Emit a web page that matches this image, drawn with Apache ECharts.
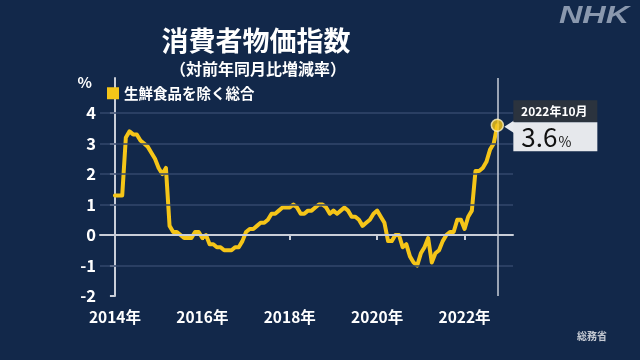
<!DOCTYPE html>
<html><head><meta charset="utf-8">
<script src="https://cdn.jsdelivr.net/npm/echarts@6/dist/echarts.min.js"></script>
<style>html,body{margin:0;padding:0;background:#12284a;}#c{width:640px;height:360px;}</style>
</head><body><div id="c"></div>
<script>
// 消費者物価指数（生鮮食品を除く総合）対前年同月比 %, monthly from 2014年1月
const startYear = 2014;
const v2014 = [1.3, 1.3, 1.3, 3.2, 3.4, 3.3, 3.3, 3.1, 3.0, 2.9, 2.7, 2.5];
const v2015 = [2.2, 2.0, 2.2, 0.3, 0.1, 0.1, 0.0, -0.1, -0.1, -0.1, 0.1, 0.1];
const v2016 = [-0.1, 0.0, -0.3, -0.3, -0.4, -0.4, -0.5, -0.5, -0.5, -0.4, -0.4, -0.2];
const v2017 = [0.1, 0.2, 0.2, 0.3, 0.4, 0.4, 0.5, 0.7, 0.7, 0.8, 0.9, 0.9];
const v2018 = [0.9, 1.0, 0.9, 0.7, 0.7, 0.8, 0.8, 0.9, 1.0, 1.0, 0.9, 0.7];
const v2019 = [0.8, 0.7, 0.8, 0.9, 0.8, 0.6, 0.6, 0.5, 0.3, 0.4, 0.5, 0.7];
const v2020 = [0.8, 0.6, 0.4, -0.2, -0.2, 0.0, 0.0, -0.4, -0.3, -0.7, -0.9, -1.0];
const v2021 = [-0.6, -0.4, -0.1, -0.9, -0.6, -0.5, -0.2, 0.0, 0.1, 0.1, 0.5, 0.5];
const v2022 = [0.2, 0.6, 0.8, 2.1, 2.1, 2.2, 2.4, 2.8, 3.0, 3.6];

const yTicks = [-2, -1, 0, 1, 2, 3, 4];
const xTickYears = [2014, 2016, 2018, 2020, 2022];
const seriesName = '生鮮食品を除く総合';
const latestLabel = '2022年10月';

const cpi = [].concat(v2014, v2015, v2016, v2017, v2018, v2019, v2020, v2021, v2022);
const seriesData = cpi.map((v, i) => [i, v]);
const lastIdx = cpi.length - 1;
const lastVal = cpi[lastIdx];
const xTickVals = xTickYears.map(y => (y - startYear) * 12);

const FONT = '"Noto Sans CJK JP", "Noto Sans", sans-serif';
const AX = '#c9ced8';
const GRIDC = '#33476c';

const chart = echarts.init(document.getElementById('c'), null, {renderer: 'canvas'});
chart.setOption({
  backgroundColor: '#12284a',
  animation: false,
  textStyle: {fontFamily: FONT},
  grid: {left: 100, right: 127, top: 78, bottom: 64},
  legend: {
    data: [seriesName], left: 107, top: 86, padding: 0,
    icon: 'rect', itemWidth: 12, itemHeight: 12,
    textStyle: {color: '#ffffff', fontSize: 14.5, fontWeight: 'bold', fontFamily: FONT}
  },
  xAxis: {
    type: 'value', min: -4.1, max: 109.3,
    axisLine: {show: true, lineStyle: {color: AX, width: 2}},
    axisTick: {show: true, customValues: xTickVals, length: 5, lineStyle: {color: AX, width: 2}},
    axisLabel: {customValues: xTickVals, color: '#ffffff', fontSize: 15.5, fontWeight: 'bold', margin: 13,
      formatter: v => (startYear + v / 12) + '年'},
    splitLine: {show: false}
  },
  yAxis: {
    type: 'value', min: -2, max: 5.15,
    axisLine: {show: true, lineStyle: {color: AX, width: 2}},
    axisTick: {show: true, customValues: yTicks, length: 5, lineStyle: {color: AX, width: 2}},
    axisLabel: {customValues: yTicks.concat([5]), color: '#ffffff', fontSize: 16.5, fontWeight: 'bold', margin: 4,
      formatter: v => v === 5 ? '{p|%}' : String(v),
      rich: {p: {fontSize: 15, fontWeight: 'bold', color: '#ffffff', fontFamily: FONT, padding: [0, 4, 0, 0]}}},
    splitLine: {show: false}
  },
  series: [
    {
      type: 'line', name: 'grid', data: seriesData, silent: true, z: 1,
      lineStyle: {opacity: 0}, showSymbol: false, legendHoverLink: false,
      markLine: {
        silent: true, symbol: 'none', label: {show: false}, animation: false,
        data: yTicks.filter(v => v !== yTicks[0]).map(v => ({
          yAxis: v, lineStyle: {type: 'solid', color: v === 0 ? AX : GRIDC, width: v === 0 ? 2 : 1.5}
        })).concat([{xAxis: lastIdx, lineStyle: {type: 'solid', color: AX, width: 1.5}}])
      }
    },
    {
      type: 'line', name: seriesName, data: seriesData, z: 3,
      showSymbol: false, color: '#f5c518',
      lineStyle: {color: '#f5c518', width: 4, join: 'round', cap: 'round'}
    },
    {
      type: 'scatter', name: 'latest', data: [[lastIdx, lastVal]], z: 5,
      symbolSize: 12, itemStyle: {color: '#f5c518', borderColor: '#fff3c0', borderWidth: 1.5}
    }
  ]
});

const p = chart.convertToPixel({gridIndex: 0}, [lastIdx, lastVal]);
const px = p[0], py = p[1];
chart.setOption({
  graphic: [
    {type: 'text', style: {text: '消費者物価指数', x: 256, y: 41, align: 'center', verticalAlign: 'middle',
      fill: '#ffffff', font: 'bold 27px ' + FONT}},
    {type: 'text', style: {text: '（対前年同月比増減率）', x: 258, y: 69, align: 'center', verticalAlign: 'middle',
      fill: '#ffffff', font: 'bold 16px ' + FONT}},
    {type: 'text', x: 594, y: 16, scaleX: 1.35, style: {text: 'NHK', x: 0, y: 0, align: 'center', verticalAlign: 'middle',
      fill: '#8a98ae', font: 'italic bold 24px "Liberation Sans", sans-serif'}},
    {type: 'text', style: {text: '総務省', x: 592, y: 336, align: 'center', verticalAlign: 'middle',
      fill: '#c5cad3', font: 'bold 10px ' + FONT}},
    {type: 'polygon', z: 10, shape: {points: [[px + 7, py + 1.5], [px + 17, py - 5], [px + 17, py + 8]]}, style: {fill: '#e8eaee'}},
    {type: 'rect', z: 10, shape: {x: px + 16, y: py - 25, width: 84, height: 22}, style: {fill: '#2b333e'}},
    {type: 'rect', z: 10, shape: {x: px + 16, y: py - 3, width: 84, height: 29}, style: {fill: '#e6e8ec'}},
    {type: 'text', z: 11, style: {text: latestLabel, x: px + 57, y: py - 14, align: 'center', verticalAlign: 'middle',
      fill: '#ffffff', font: 'bold 12px ' + FONT}},
    {type: 'text', z: 11, style: {text: '{a|' + lastVal.toFixed(1) + '}{b|%}', x: px + 24, y: py + 12,
      align: 'left', verticalAlign: 'middle',
      rich: {a: {fontSize: 26, fill: '#111111', fontFamily: FONT, verticalAlign: 'bottom'},
             b: {fontSize: 14, fill: '#111111', fontFamily: FONT, verticalAlign: 'bottom', padding: [0, 0, 2, 1]}}}}
  ]
});
</script>
</body></html>
